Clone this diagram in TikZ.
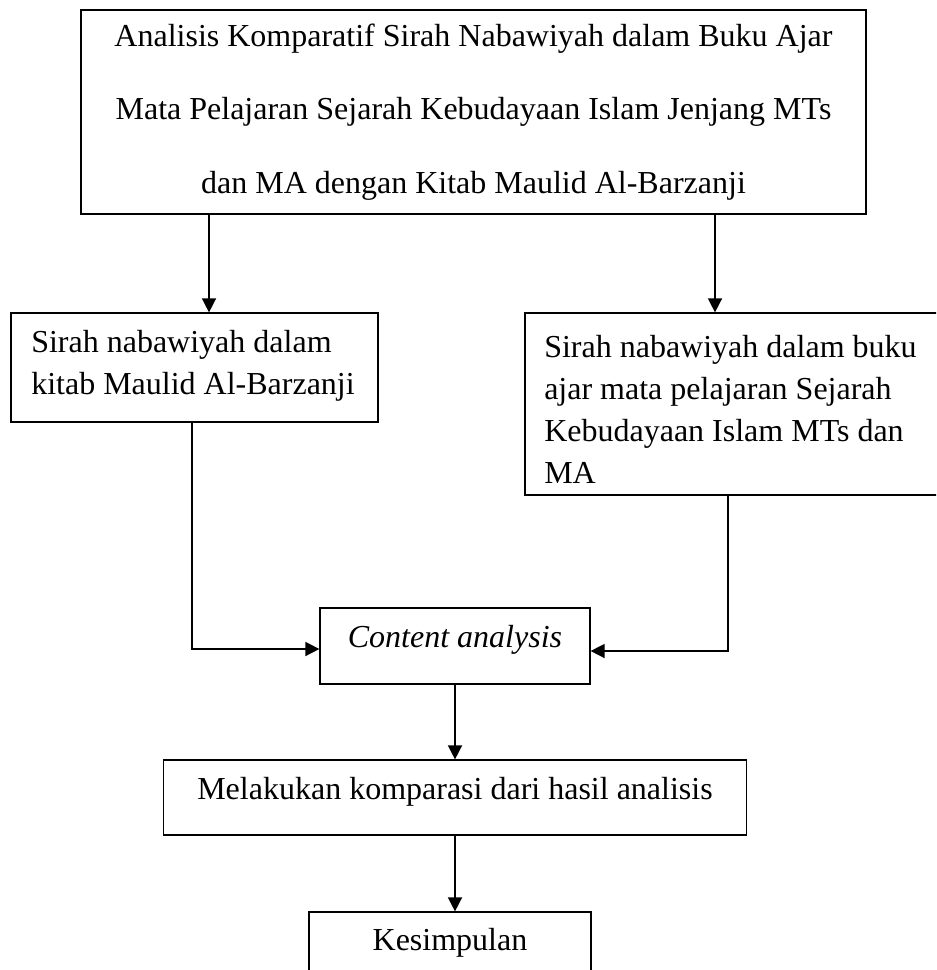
\documentclass[tikz,border=0pt]{standalone}
\usepackage{fontspec}
\setmainfont{Liberation Serif}
\usetikzlibrary{arrows.meta}
\begin{document}
\begin{tikzpicture}[x=0.75pt,y=-0.75pt,
  box/.style={draw, line width=0.9pt, inner sep=0pt},
  txt/.style={inner sep=0pt, font=\fontsize{24}{31.5}\selectfont},
  arr/.style={line width=1.1pt, -{Triangle[length=10.5pt,width=10.5pt]}}]
\useasboundingbox (0,0) rectangle (936,970);
\clip (0,0) rectangle (936,970);
% boxes
\node[box, minimum width=588.75pt, minimum height=153pt, align=center,
      font=\fontsize{24}{55}\selectfont] (top) at (473.5,112)
  {Analisis Komparatif Sirah Nabawiyah dalam Buku Ajar\\
   Mata Pelajaran Sejarah Kebudayaan Islam Jenjang MTs\\
   dan MA dengan Kitab Maulid Al-Barzanji};
\node[box, minimum width=275.25pt, minimum height=81.75pt] (left) at (194.5,367.5) {};
\node[txt, align=left, anchor=west] (leftT) at (31,366)
  {Sirah nabawiyah dalam\\kitab Maulid Al-Barzanji};
\node[box, minimum width=313.5pt, minimum height=136.5pt] (right) at (734,404) {};
\node[txt, align=left, anchor=west] (rightT) at (544,409)
  {Sirah nabawiyah dalam buku\\ajar mata pelajaran Sejarah\\Kebudayaan Islam MTs dan\\MA};
\node[box, minimum width=202.5pt, minimum height=57pt] (content) at (455,646) {};
\node[txt] (contentT) at (455,640) {\itshape Content analysis};
\node[box, minimum width=437.25pt, minimum height=56.25pt] (melak) at (455,797.5) {};
\node[txt] (melakT) at (455,792) {Melakukan komparasi dari hasil analisis};
\node[box, minimum width=211.5pt, minimum height=48pt] (kes) at (450,944) {};
\node[txt] (kesT) at (450,943) {Kesimpulan};
% connectors
\coordinate (x1) at (209,0);
\coordinate (x2) at (715,0);
\coordinate (x3) at (192,649);
\coordinate (x4) at (728,651);
\draw[arr] (top.south -| x1) -- (left.north -| x1);
\draw[arr] (top.south -| x2) -- (right.north -| x2);
\draw[arr] (left.south -| x3) |- (content.west |- x3);
\draw[arr] (right.south -| x4) |- (content.east |- x4);
\draw[arr] (content.south) -- (content.south |- melak.north);
\draw[arr] (melak.south) -- (melak.south |- kes.north);
\end{tikzpicture}
\end{document}
